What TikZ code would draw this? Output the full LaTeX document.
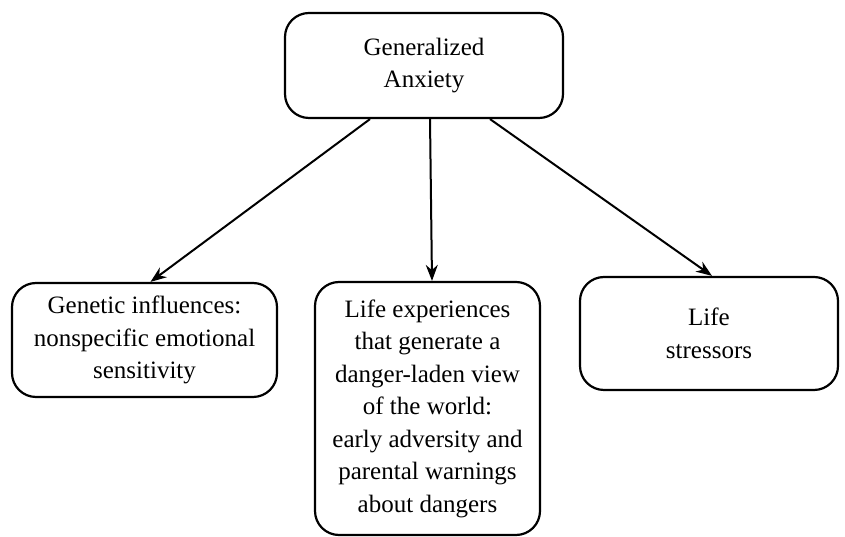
\documentclass[tikz,border=0pt]{standalone}
\usepackage{fontspec}
\setmainfont{Liberation Serif}
\usetikzlibrary{arrows.meta,positioning,calc}
\tikzset{
  cause_box/.style={draw=black,line width=2.2pt,rounded corners=24pt,
    align=center,font=\rmfamily\fontsize{25}{32.5}\selectfont,inner sep=0pt},
  arr/.style={-{Stealth[length=16pt,width=12pt]},draw=black,line width=2pt},
}

\begin{document}
\begin{tikzpicture}[x=1pt,y=1pt]
    \useasboundingbox (0,0) rectangle (845,537);

    \node[cause_box,minimum width=278,minimum height=105] (gad) at (424,471.5) {Generalized\\Anxiety};
    \node[cause_box,minimum width=265,minimum height=114] (gene) at (144.5,197) {Genetic influences:\\nonspecific emotional\\sensitivity};
    \node[cause_box,minimum width=225,minimum height=253] (exp) at (427.5,128.5) {Life experiences\\that generate a\\danger-laden view\\of the world:\\early adversity and\\parental warnings\\about dangers};
    \node[cause_box,minimum width=258,minimum height=113] (stress) at (709,203.5) {Life\\stressors};

    \draw[arr] ($(gad.south)+(-54,0)$) -- ($(gene.north)+(6,0)$);
    \draw[arr] ($(gad.south)+(6,0)$) -- ($(exp.north)+(4.5,0)$);
    \draw[arr] ($(gad.south)+(66,0)$) -- ($(stress.north)+(3,0)$);
  \end{tikzpicture}
\end{document}
